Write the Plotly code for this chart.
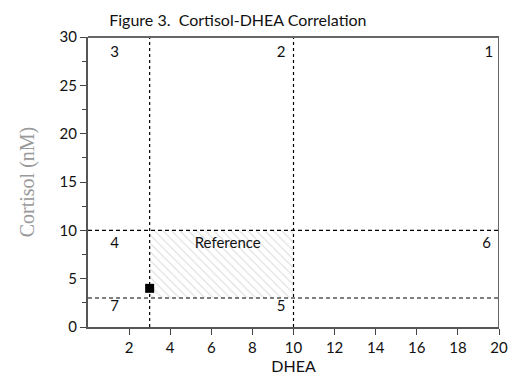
import plotly.graph_objects as go

# Data
ref_x = [3, 10, 10, 3, 3]
ref_y = [3, 3, 10, 10, 3]
cut_x = [3, 10]          # vertical dashed cutoffs (DHEA)
cut_y = [3, 10]          # horizontal dashed cutoffs (Cortisol)
point_x = [3]
point_y = [4]
zone_labels = ["3", "2", "1", "4", "Reference", "6", "7", "5"]
zone_x = [1.3, 9.4, 19.5, 1.3, 6.8, 19.4, 1.3, 9.4]
zone_y = [28.3, 28.3, 28.3, 8.6, 8.6, 8.6, 2.0, 2.0]
x_ticks = [2, 4, 6, 8, 10, 12, 14, 16, 18, 20]
y_ticks = [0, 5, 10, 15, 20, 25, 30]

font = "Lato"
fig = go.Figure()

fig.add_trace(go.Scatter(
    x=ref_x, y=ref_y, mode="lines", fill="toself",
    line=dict(width=0), fillcolor="rgba(0,0,0,0)",
    fillpattern=dict(shape="\\", fgcolor="#b8b8b8", bgcolor="white",
                     size=6, solidity=0.18),
    hoverinfo="skip", showlegend=False))

for xv in cut_x:
    fig.add_trace(go.Scatter(x=[xv, xv], y=[0, 30], mode="lines",
                             line=dict(color="black", width=1.2, dash="3px,3px"),
                             showlegend=False, hoverinfo="skip"))
for yv in cut_y:
    fig.add_trace(go.Scatter(x=[0, 20], y=[yv, yv], mode="lines",
                             line=dict(color="black", width=1.2, dash="4px,3px"),
                             showlegend=False, hoverinfo="skip"))

fig.add_trace(go.Scatter(x=point_x, y=point_y, mode="markers",
                         marker=dict(symbol="square", size=9, color="black"),
                         showlegend=False))

fig.add_trace(go.Scatter(x=zone_x, y=zone_y, mode="text", text=zone_labels,
                         textfont=dict(family=font, size=15, color="#111"),
                         showlegend=False, hoverinfo="skip"))

fig.add_shape(type="line", xref="x", yref="y", x0=20, x1=20, y0=0, y1=30,
              line=dict(color="black", width=1.2))

fig.update_layout(
    width=512, height=373,
    margin=dict(l=80, r=13, t=29, b=46),
    paper_bgcolor="white", plot_bgcolor="white",
    title=dict(text="Figure 3.  Cortisol-DHEA Correlation",
               x=0.449, xanchor="center", y=0.968, yanchor="middle",
               font=dict(family=font, size=16, color="#111")),
    xaxis=dict(range=[0, 20], tickvals=x_ticks, ticks="outside", ticklen=6,
               tickcolor="#444", showgrid=False, zeroline=False,
               showline=True, linecolor="#555", linewidth=2, mirror=False,
               tickfont=dict(family=font, size=15, color="#111"),
               title=dict(text="DHEA", font=dict(family=font, size=16, color="#111"),
                          standoff=2)),
    yaxis=dict(range=[0, 30], tickvals=y_ticks, ticks="outside", ticklen=6,
               tickcolor="#444", showgrid=False, zeroline=False,
               showline=True, linecolor="#555", linewidth=2,
               minor=dict(tickvals=[2.5, 7.5, 12.5, 17.5, 22.5, 27.5],
                          ticks="outside", ticklen=4, tickcolor="#444"),
               tickfont=dict(family=font, size=15, color="#111"),
               title=dict(text="Cortisol (nM)",
                          font=dict(family="Liberation Serif", size=20, color="#999"),
                          standoff=20)),
)
fig.add_shape(type="line", xref="paper", yref="paper", x0=0, x1=1, y0=1, y1=1,
              line=dict(color="#666", width=2))

fig.write_html("out.html")
